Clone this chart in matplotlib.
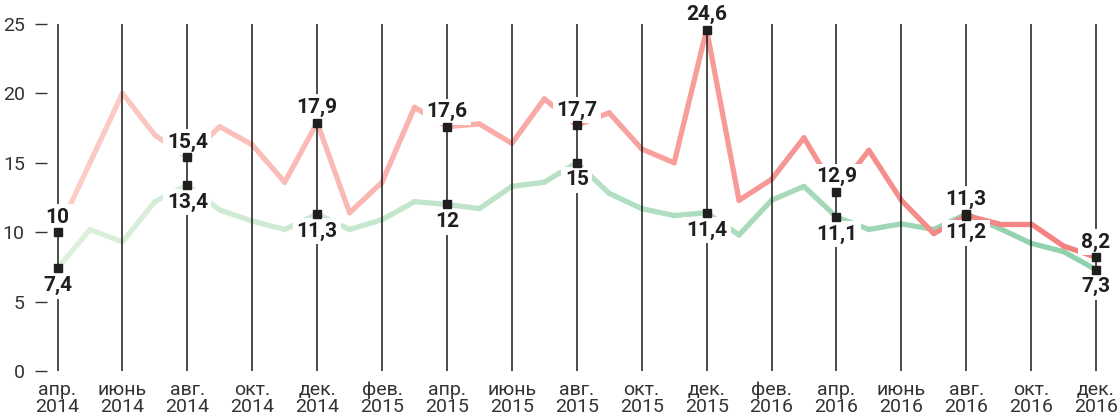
import numpy as np
import matplotlib
matplotlib.use("Agg")
import matplotlib.pyplot as plt
from matplotlib.collections import LineCollection
from matplotlib.colors import to_rgb

plt.rcParams['font.family'] = ['Roboto', 'DejaVu Sans']

# months Apr 2014 .. Dec 2016
months = ['апр.', 'май', 'июнь', 'июль', 'авг.', 'сент.', 'окт.', 'нояб.', 'дек.',
          'янв.', 'фев.', 'март', 'апр.', 'май', 'июнь', 'июль', 'авг.', 'сент.',
          'окт.', 'нояб.', 'дек.', 'янв.', 'фев.', 'март', 'апр.', 'май', 'июнь',
          'июль', 'авг.', 'сент.', 'окт.', 'нояб.', 'дек.']
years = [2014] * 9 + [2015] * 12 + [2016] * 12

red_vals = [10, 15.0, 20.0, 17.0, 15.4, 17.6, 16.3, 13.6, 17.9,
            11.4, 13.6, 19.0, 17.6, 17.8, 16.4, 19.6, 17.7, 18.6,
            16.0, 15.0, 24.6, 12.3, 13.8, 16.8, 12.9, 15.9, 12.3,
            9.9, 11.2, 10.6, 10.6, 9.0, 8.2]
green_vals = [7.4, 10.2, 9.3, 12.2, 13.4, 11.6, 10.8, 10.2, 11.3,
              10.2, 10.9, 12.2, 12, 11.7, 13.3, 13.6, 15, 12.8,
              11.7, 11.2, 11.4, 9.8, 12.3, 13.3, 11.1, 10.2, 10.6,
              10.2, 11.3, 10.3, 9.2, 8.6, 7.3]

label_idx = [0, 4, 8, 12, 16, 20, 24, 28, 32]

x = np.arange(len(months))
red = np.array(red_vals)
green = np.array(green_vals)

fig = plt.figure(figsize=(11.2, 4.16), dpi=100)
ax = fig.add_axes([47 / 1120, 45 / 416, 1063 / 1120, 347 / 416])
ax.set_xlim(-0.3236, 32.43)
ax.set_ylim(0, 25)


def gradient_line(xs, ys, c_left, c_right):
    # colour fades from left to right, one colour per segment
    pts = np.column_stack([xs, ys]).reshape(-1, 1, 2)
    segs = np.concatenate([pts[:-1], pts[1:]], axis=1)
    t = np.linspace(0, 1, len(segs))[:, None]
    cols = (1 - t) * np.array(to_rgb(c_left)) + t * np.array(to_rgb(c_right))
    lc = LineCollection(segs, colors=cols, linewidths=3.8,
                        capstyle='round', joinstyle='round', zorder=2)
    ax.add_collection(lc)


gradient_line(x, green, '#ddf0dc', '#8fd1ac')
gradient_line(x, red, '#fccdc6', '#f47f7f')

# vertical lines every two months
for xi in x[::2]:
    ax.plot([xi, xi], [0, 25], color='#1a1a1a', lw=1.1, zorder=3)

# labels and markers
for i in label_idx:
    r, g = red[i], green[i]
    top, bot = (r, g) if r >= g else (g, r)
    ax.plot([i, i], [top, bot], ls='none', marker='s', ms=5.8,
            color='#1f1f1f', zorder=6)
    for v, dy, va in [(top, 4, 'bottom'), (bot, -5.5, 'top')]:
        txt = f'{v:g}'.replace('.', ',')
        ax.annotate(txt, (i, v), xytext=(0, dy), textcoords='offset points',
                    ha='center', va=va, fontsize=15, fontweight='bold',
                    color='#1f1f1f', zorder=5,
                    bbox=dict(fc='white', ec='none', pad=2.5))

ax.set_xticks(x[::2])
ax.set_xticklabels([f'{months[i]}\n{years[i]}' for i in x[::2]],
                   fontsize=14, color='#333333', linespacing=0.95)
ax.tick_params(axis='x', length=0, pad=7)
ax.set_yticks([0, 5, 10, 15, 20, 25])
ax.tick_params(axis='y', length=9, width=1, color='#333333',
               labelsize=14, labelcolor='#333333', pad=7)
for s in ax.spines.values():
    s.set_visible(False)

fig.savefig('out.png', dpi=100)
